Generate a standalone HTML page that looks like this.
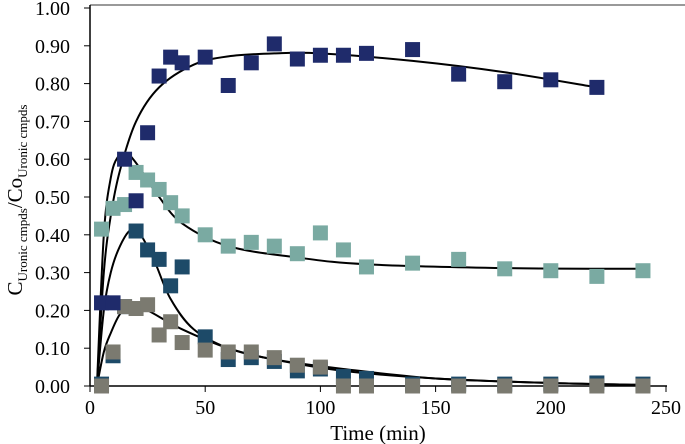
<!DOCTYPE html>
<html><head><meta charset="utf-8"><style>
html,body{margin:0;padding:0;background:#fff}
svg{display:block;font-family:"Liberation Serif",serif}
</style></head><body>
<svg id="chart" width="685" height="444" viewBox="0 0 685 444">
<line x1="90" y1="5" x2="685" y2="5" stroke="#999" stroke-width="2"/>
<g id="axes"></g><g id="curves"></g><g id="marks"></g>
<text x="378" y="440" font-size="21" text-anchor="middle">Time (min)</text>
<text transform="translate(22,200) rotate(-90)" font-size="21" text-anchor="middle">C<tspan font-size="13" dy="5">Uronic cmpds</tspan><tspan dy="-5">/Co</tspan><tspan font-size="13" dy="5">Uronic cmpds</tspan></text>
</svg>
<script>
const xTicks=[0,50,100,150,200,250];
const yTicks=[0,0.1,0.2,0.3,0.4,0.5,0.6,0.7,0.8,0.9,1.0];
const times=[5,10,15,20,25,30,35,40,50,60,70,80,90,100,110,120,140,160,180,200,220,240];
const s1=[0.22,0.22,0.60,0.49,0.67,0.82,0.87,0.855,0.87,0.795,0.855,0.905,0.865,0.875,0.875,0.88,0.89,0.825,0.805,0.81,0.79,null];
const s2=[0.415,0.47,0.48,0.565,0.545,0.52,0.485,0.45,0.40,0.37,0.38,0.37,0.35,0.405,0.36,0.315,0.325,0.335,0.31,0.305,0.29,0.305];
const s3=[0.005,0.08,0.21,0.41,0.36,0.335,0.265,0.315,0.13,0.07,0.075,0.065,0.04,0.045,0.025,0.02,0.005,0.005,0.005,0.005,0.008,0.005];
const s4=[0.0,0.09,0.21,0.205,0.215,0.135,0.17,0.115,0.095,0.09,0.09,0.075,0.055,0.05,0.0,0.0,0.0,0.0,0.0,0.0,0.0,0.0];
const c1x=[3,6,9,13,20,30,45,60,80,100,140,180,220];
const c1y=[0,0.3,0.45,0.57,0.7,0.79,0.85,0.872,0.88,0.88,0.86,0.83,0.79];
const c2x=[3,6,9,12,16,20,25,30,40,60,90,120,180,240];
const c2y=[0,0.4,0.55,0.605,0.615,0.59,0.545,0.5,0.43,0.37,0.34,0.322,0.312,0.31];
const c3x=[3,6,9,13,18,22,28,35,45,60,80,110,150,200,240];
const c3y=[0,0.2,0.3,0.37,0.415,0.4,0.33,0.23,0.15,0.1,0.07,0.04,0.02,0.008,0.003];
const c4x=[3,6,9,13,18,25,40,60,80,110,150,200,240];
const c4y=[0,0.09,0.14,0.19,0.215,0.2,0.15,0.1,0.07,0.045,0.02,0.008,0.003];
const X=v=>90+v*2.304, Y=v=>386-v*378;
const NS='http://www.w3.org/2000/svg';
function mk(t,a,p){const e=document.createElementNS(NS,t);for(const k in a)e.setAttribute(k,a[k]);p.appendChild(e);return e;}
const ax=document.getElementById('axes');
let l=mk('line',{x1:90,y1:386,x2:667,y2:386,stroke:'#000','stroke-width':1.5},ax);


l=mk('line',{x1:90,y1:5,x2:90,y2:386,stroke:'#000','stroke-width':1.5},ax);


xTicks.forEach(v=>{const t=mk('text',{x:X(v),y:414,'font-size':20,'text-anchor':'middle'},ax);t.textContent=v;


const k=mk('line',{x1:X(v),y1:386,x2:X(v),y2:392,stroke:'#000'},ax);

});
yTicks.forEach(v=>{const t=mk('text',{x:70,y:Y(v)+7,'font-size':20,'text-anchor':'end'},ax);t.textContent=v.toFixed(2);


const k=mk('line',{x1:84,y1:Y(v),x2:90,y2:Y(v),stroke:'#000'},ax);

});
function path(xs,ys){const p=xs.map((x,i)=>[X(x),Y(ys[i])]);let d='M'+p[0][0]+','+p[0][1];
for(let i=0;i<p.length-1;i++){const p0=p[i-1]||p[i],p1=p[i],p2=p[i+1],p3=p[i+2]||p2;
d+=` C${p1[0]+(p2[0]-p0[0])/6},${p1[1]+(p2[1]-p0[1])/6} ${p2[0]-(p3[0]-p1[0])/6},${p2[1]-(p3[1]-p1[1])/6} ${p2[0]},${p2[1]}`;}return d;}
const mg=document.getElementById('marks'),cg=document.getElementById('curves');
[[s3,'#1d4a68','blue'],[s4,'#7b7a70','gray'],[s2,'#7aaaa2','teal'],[s1,'#1f2b6b','navy']].forEach(([s,c,n])=>{
s.forEach((v,i)=>{if(v==null)return;const r=mk('rect',{x:X(times[i])-7.5,y:Y(v)-7.5,width:15,height:15,fill:c},mg);

});});
[[c1x,c1y],[c2x,c2y],[c3x,c3y],[c4x,c4y]].forEach(([xs,ys],i)=>{const p=mk('path',{d:path(xs,ys),fill:'none',stroke:'#000','stroke-width':2},cg);

});
</script>
</body></html>
